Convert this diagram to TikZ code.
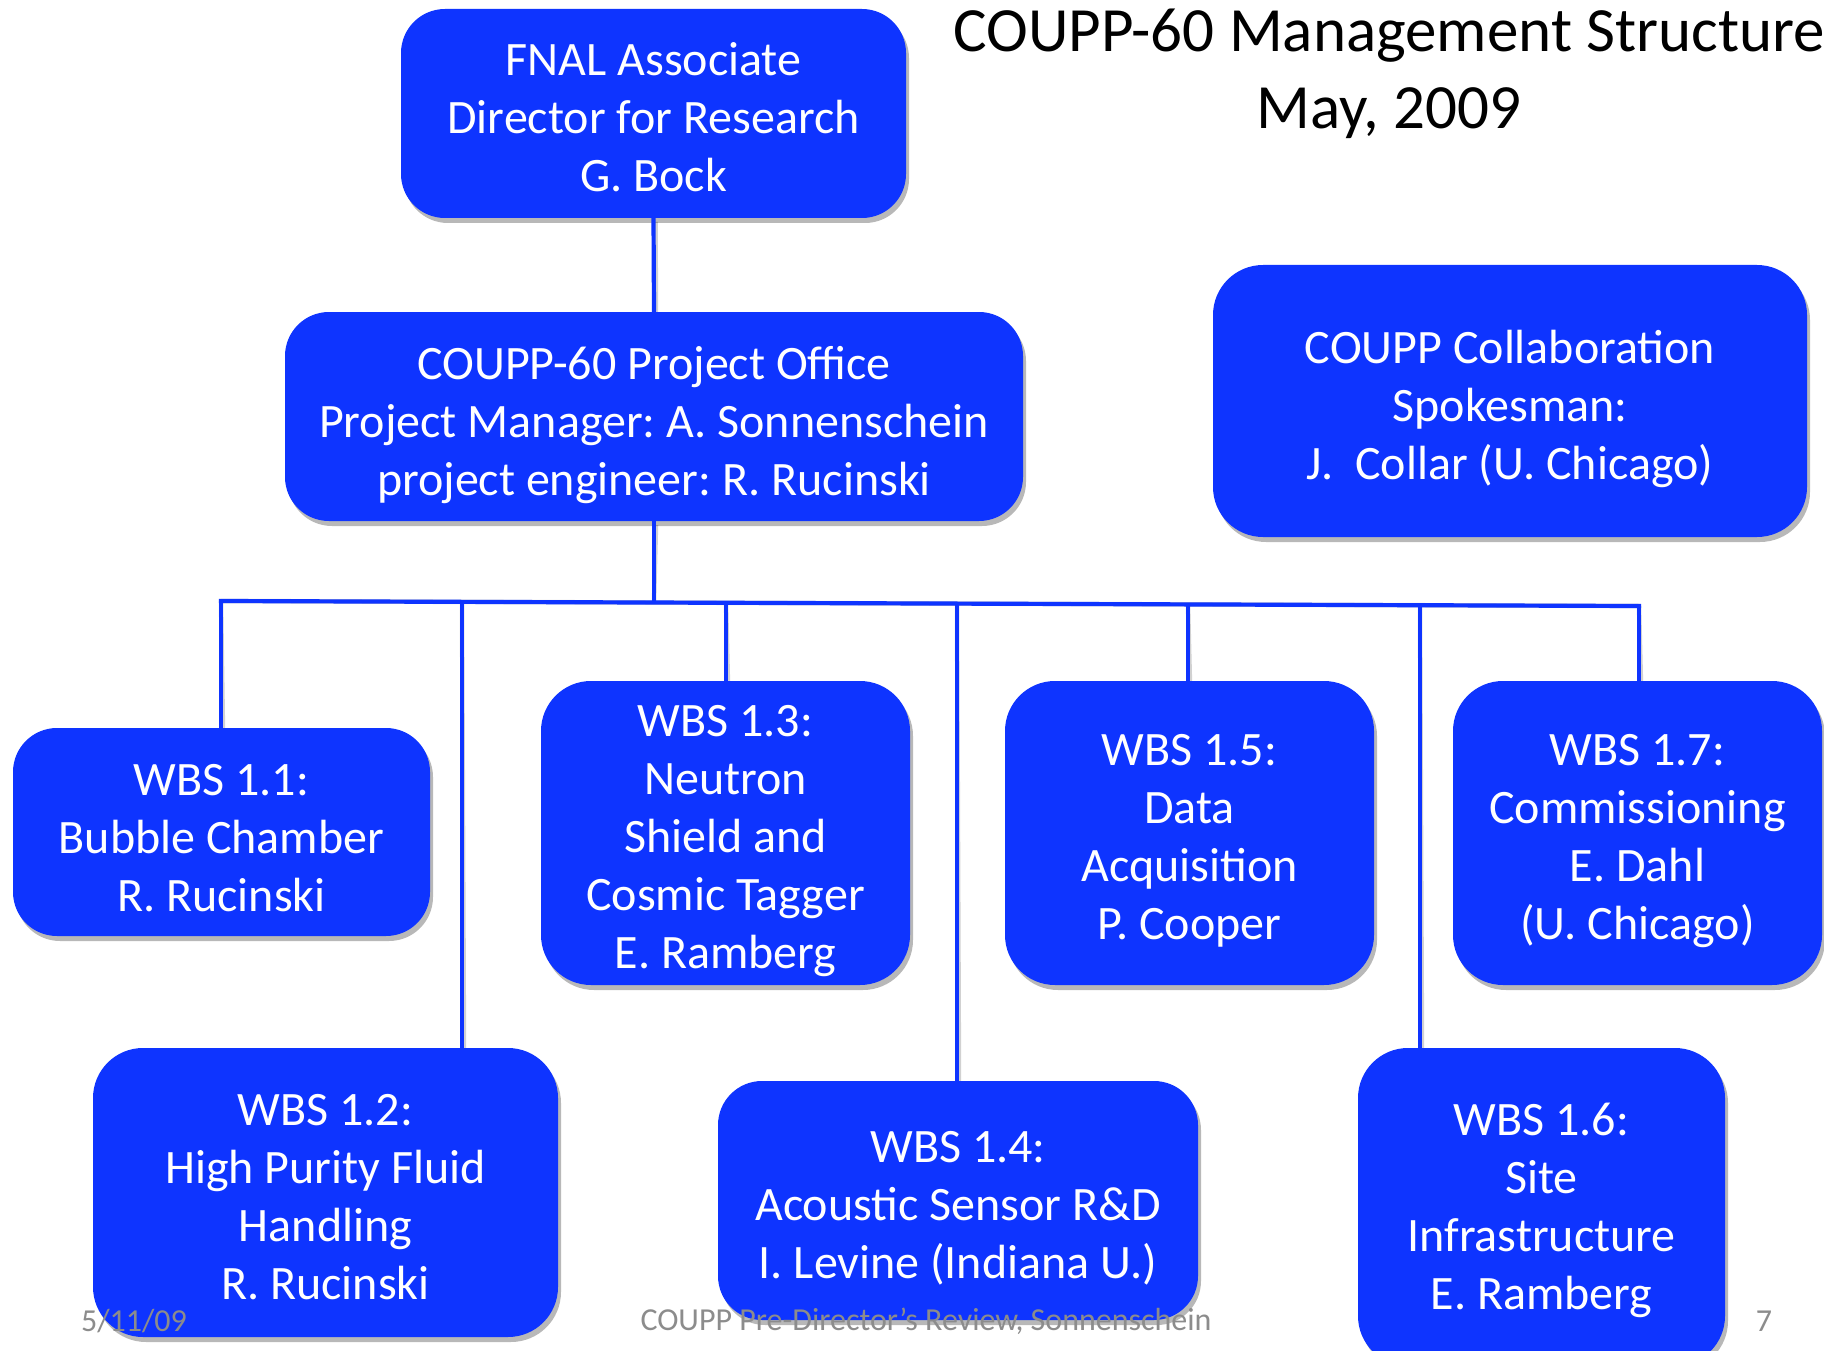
\documentclass[tikz,border=0pt]{standalone}
\usepackage{fontspec}
\setmainfont{Carlito}
\usetikzlibrary{shadows}
\definecolor{boxblue}{RGB}{14,52,255}
\definecolor{footgray}{RGB}{140,140,140}
\tikzset{
  orgbox/.style={draw=none, fill=boxblue, rounded corners=44pt, inner sep=0pt,
    drop shadow={shadow xshift=3pt, shadow yshift=-5pt, opacity=0.28, fill=black}},
  boxtext/.style={text=white, align=center, inner sep=0pt, font=\fontsize{48}{58}\selectfont},
  conn/.style={draw=boxblue, line width=4.2pt},
  connshadow/.style={draw=black, opacity=0.18, line width=4.5pt},
  foot/.style={text=footgray, font=\fontsize{32}{36}\selectfont, inner sep=0pt},
}
\begin{document}
\frenchspacing
\begin{tikzpicture}[x=1pt, y=-1pt]
\useasboundingbox (0,0) rectangle (1824,1351);
\clip (0,0) rectangle (1824,1351);
\fill[white] (0,0) rectangle (1824,1351);

% title
\node[font=\fontsize{63}{77}\selectfont, align=center, inner sep=0pt] (title) at (1389,74)
  {COUPP-60 Management Structure\\May, 2009};

% bus coordinates
\coordinate (b11) at (221,601);
\coordinate (b12) at (462,601.9);
\coordinate (bpo) at (654,602.5);
\coordinate (b13) at (726,602.8);
\coordinate (b14) at (957,603.6);
\coordinate (b15) at (1188,604.4);
\coordinate (b16) at (1420,605.2);
\coordinate (b17) at (1639,606);

% connector shadows
\begin{scope}[shift={(2,4)}]
  \draw[connshadow] (653.5,218) -- (654,312);
  \draw[connshadow] (654,521) -- (bpo);
  \draw[connshadow] (b11) -- (b17);
  \draw[connshadow] (b11) -- (221,728);
  \draw[connshadow] (b12) -- (462,1048);
  \draw[connshadow] (b13) -- (726,681);
  \draw[connshadow] (b14) -- (957,1081);
  \draw[connshadow] (b15) -- (1188,681);
  \draw[connshadow] (b16) -- (1420,1048);
  \draw[connshadow] (b17) -- (1639,681);
\end{scope}

% boxes
\node[orgbox, minimum width=505pt, minimum height=209pt] (fnal) at (653.5,113.5) {};
\node[orgbox, minimum width=738pt, minimum height=209pt] (po) at (654,416.5) {};
\node[orgbox, minimum width=594pt, minimum height=272pt, rounded corners=50pt] (col) at (1510,401) {};
\node[orgbox, minimum width=417pt, minimum height=208pt] (w11) at (221.5,832) {};
\node[orgbox, minimum width=465pt, minimum height=289pt, rounded corners=50pt] (w12) at (325.5,1192.5) {};
\node[orgbox, minimum width=369pt, minimum height=304pt, rounded corners=50pt] (w13) at (725.5,833) {};
\node[orgbox, minimum width=480pt, minimum height=239pt] (w14) at (958,1200.5) {};
\node[orgbox, minimum width=369pt, minimum height=304pt, rounded corners=50pt] (w15) at (1189.5,833) {};
\node[orgbox, minimum width=367pt, minimum height=318pt, rounded corners=50pt] (w16) at (1541.5,1207) {};
\node[orgbox, minimum width=369pt, minimum height=304pt, rounded corners=50pt] (w17) at (1637.5,833) {};

% box texts
\node[boxtext, yshift=-4pt] (fnalt) at (fnal) {FNAL Associate\\Director for Research\\G. Bock};
\node[boxtext, yshift=-9pt] (pot) at (po) {COUPP-60 Project Office\\Project Manager: A. Sonnenschein\\project engineer: R. Rucinski};
\node[boxtext, yshift=-8pt] (colt) at (col) {COUPP Collaboration\\Spokesman:\\J.\ \ Collar (U. Chicago)};
\node[boxtext, yshift=-6pt] (w11t) at (w11) {WBS 1.1:\\Bubble Chamber\\R. Rucinski};
\node[boxtext, yshift=-5pt] (w12t) at (w12) {WBS 1.2:\\High Purity Fluid\\Handling\\R. Rucinski};
\node[boxtext, yshift=-8pt] (w13t) at (w13) {WBS 1.3:\\Neutron\\Shield and\\Cosmic Tagger\\E. Ramberg};
\node[boxtext, yshift=-8pt] (w14t) at (w14) {WBS 1.4:\\Acoustic Sensor R\&D\\I. Levine (Indiana U.)};
\node[boxtext, yshift=-8pt] (w15t) at (w15) {WBS 1.5:\\Data\\Acquisition\\P. Cooper};
\node[boxtext, yshift=-3pt] (w16t) at (w16) {WBS 1.6:\\Site\\Infrastructure\\E. Ramberg};
\node[boxtext, yshift=-8pt] (w17t) at (w17) {WBS 1.7:\\Commissioning\\E. Dahl\\(U. Chicago)};

% connectors
\draw[conn] (fnal.south) -- (po.north);
\draw[conn] (po.south) -- (bpo);
\draw[conn, line cap=rect] (b11) -- (b17);
\draw[conn] (b11) -- (b11 |- w11.north);
\draw[conn] (b12) -- (b12 |- w12.north);
\draw[conn] (b13) -- (b13 |- w13.north);
\draw[conn] (b14) -- (b14 |- w14.north);
\draw[conn] (b15) -- (b15 |- w15.north);
\draw[conn] (b16) -- (b16 |- w16.north);
\draw[conn] (b17) -- (b17 |- w17.north);

% footer
\node[foot] (fdate) at (134,1321) {5/11/09};
\node[foot] (ftitle) at (926,1321) {COUPP Pre-Director’s Review, Sonnenschein};
\node[foot] (fpage) at (1764,1321) {7};
\end{tikzpicture}
\end{document}
